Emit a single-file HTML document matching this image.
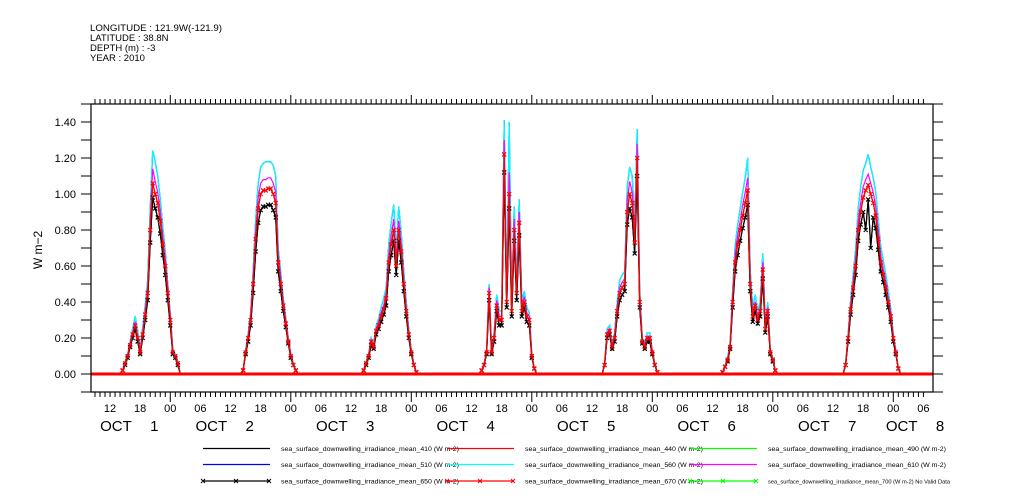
<!DOCTYPE html>
<html><head><meta charset="utf-8">
<style>
html,body{margin:0;padding:0;background:#fff;}
svg{display:block;font-family:"Liberation Sans",sans-serif;}
</style></head>
<body>
<svg id="chart" width="1009" height="504" viewBox="0 0 1009 504" xmlns="http://www.w3.org/2000/svg">
  <g font-size="9.5" fill="#000">
    <text x="90" y="31" textLength="132" lengthAdjust="spacingAndGlyphs">LONGITUDE : 121.9W(-121.9)</text>
    <text x="90" y="41">LATITUDE : 38.8N</text>
    <text x="90" y="51">DEPTH (m) : -3</text>
    <text x="90" y="61">YEAR : 2010</text>
  </g>
  <text x="0" y="0" font-size="12" text-anchor="middle" transform="translate(42,250) rotate(-90)">W m−2</text>
  <g id="axes"></g>
  <g id="series"></g>
  <rect x="91" y="104" width="842" height="288" fill="none" stroke="#000" stroke-width="1.2"/>
  <g id="legend"></g>
</svg>
<script>
const dayLabels = ["OCT 1","OCT 2","OCT 3","OCT 4","OCT 5","OCT 6","OCT 7","OCT 8"];
const yTickLabels = ["0.00","0.20","0.40","0.60","0.80","1.00","1.20","1.40"];
const yTickValues = [0,0.2,0.4,0.6,0.8,1.0,1.2,1.4];
const hourLabels = ["00","06","12","18"];

const s670 = [
0,0,.02,.06,.10,.16,.22,.27,.20,.12,.22,.33,.45,.80,1.06,1.00,.95,.85,.72,.60,.45,.30,.12,.10,.06,0,0,
0,0,.02,.12,.20,.30,.50,.75,.92,1.00,1.02,1.02,1.03,1.03,1.00,.95,.62,.50,.38,.28,.18,.10,.05,.02,0,0,0,
0,0,.02,.06,.10,.18,.15,.24,.27,.32,.36,.42,.62,.72,.80,.60,.80,.68,.50,.35,.22,.12,.05,.01,0,0,0,
0,.02,.05,.12,.45,.12,.20,.38,.30,.30,1.22,.40,1.00,.35,.80,.45,.84,.35,.40,.32,.30,.10,.03,0,0,0,0,
0,0,.05,.22,.24,.15,.20,.35,.45,.48,.50,.90,1.00,.95,.73,1.20,.40,.18,.15,.20,.20,.12,.05,.01,0,0,0,
0,.01,.04,.08,.15,.40,.62,.72,.80,.88,.95,1.02,.50,.32,.38,.30,.35,.58,.25,.35,.12,.08,.02,0,0,0,0,
0,0,.05,.20,.36,.48,.60,.80,.90,.98,1.02,1.05,1.00,.95,.88,.75,.62,.55,.48,.40,.32,.20,.12,.03,0,0,0];
const s560 = [
0,0,.02,.07,.11,.18,.25,.32,.24,.14,.26,.38,.52,.92,1.24,1.18,1.10,.97,.82,.68,.50,.33,.14,.11,.07,0,0,
0,0,.02,.13,.22,.34,.57,.86,1.06,1.15,1.17,1.18,1.18,1.18,1.16,1.10,.70,.56,.42,.31,.20,.11,.06,.02,0,0,0,
0,0,.02,.07,.11,.20,.17,.27,.31,.37,.42,.48,.72,.84,.94,.70,.93,.78,.57,.40,.25,.13,.06,.01,0,0,0,
0,.02,.06,.13,.50,.13,.23,.44,.35,.35,1.41,.46,1.40,.41,.93,.52,.97,.40,.46,.37,.34,.11,.03,0,0,0,0,
0,0,.06,.25,.27,.17,.23,.40,.52,.55,.57,1.04,1.15,1.10,.84,1.36,.46,.20,.17,.23,.23,.13,.06,.01,0,0,0,
0,.01,.05,.09,.17,.46,.71,.83,.92,1.01,1.09,1.20,.58,.37,.44,.35,.40,.67,.28,.40,.13,.09,.02,0,0,0,0,
0,0,.06,.22,.41,.55,.69,.92,1.04,1.13,1.17,1.22,1.15,1.09,1.01,.86,.71,.63,.55,.46,.36,.22,.13,.03,0,0,0];
const s410 = [
0,0,.02,.05,.09,.15,.20,.25,.18,.11,.20,.30,.41,.73,.98,.92,.87,.78,.66,.55,.41,.27,.11,.09,.05,0,0,
0,0,.02,.11,.18,.27,.45,.68,.84,.91,.93,.93,.94,.94,.91,.87,.57,.46,.35,.26,.17,.09,.05,.02,0,0,0,
0,0,.02,.05,.09,.16,.14,.22,.25,.29,.33,.38,.57,.66,.74,.55,.74,.62,.46,.32,.20,.11,.05,.01,0,0,0,
0,.02,.05,.11,.41,.11,.18,.35,.27,.27,1.12,.37,.92,.32,.74,.41,.77,.32,.37,.29,.27,.09,.03,0,0,0,0,
0,0,.05,.20,.22,.14,.18,.32,.41,.44,.46,.83,.92,.87,.67,1.10,.37,.17,.14,.18,.18,.11,.05,.01,0,0,0,
0,.01,.04,.07,.14,.37,.57,.66,.74,.81,.87,.94,.46,.29,.35,.28,.32,.53,.23,.32,.11,.07,.02,0,0,0,0,
0,0,.05,.18,.33,.44,.55,.74,.83,.90,.80,.97,.70,.87,.81,.69,.57,.51,.44,.37,.29,.18,.11,.03,0,0,0];
const s610 = [
0,0,.02,.06,.10,.17,.23,.29,.21,.13,.23,.35,.48,.85,1.14,1.07,1.01,.90,.76,.64,.48,.32,.13,.10,.06,0,0,
0,0,.02,.12,.21,.32,.53,.80,.98,1.06,1.08,1.08,1.09,1.09,1.06,1.01,.66,.53,.40,.30,.19,.11,.05,.02,0,0,0,
0,0,.02,.06,.10,.19,.16,.25,.29,.34,.38,.45,.66,.77,.86,.64,.85,.72,.53,.37,.23,.13,.05,.01,0,0,0,
0,.02,.05,.13,.48,.13,.21,.41,.32,.32,1.30,.43,1.12,.37,.86,.48,.90,.37,.43,.34,.32,.11,.03,0,0,0,0,
0,0,.05,.23,.25,.16,.21,.37,.48,.51,.53,.96,1.07,1.01,.78,1.28,.43,.19,.16,.21,.21,.13,.05,.01,0,0,0,
0,.01,.04,.08,.16,.43,.66,.77,.85,.94,1.01,1.09,.53,.34,.40,.32,.37,.62,.27,.37,.13,.08,.02,0,0,0,0,
0,0,.05,.21,.38,.51,.64,.85,.95,1.04,1.08,1.11,1.06,1.01,.93,.80,.66,.58,.51,.42,.34,.21,.13,.03,0,0,0];
const s510 = s560.slice();
const s490 = s670.slice();
const s440 = s670.slice();
const s650 = s410.slice();

const NS="http://www.w3.org/2000/svg";
const X0=49.8, PXH=120.5/24, Y0=374, PXV=180;
const T_START=8.2, T_END=174.7, PER_DAY=27, DAY_T0=13.5, STEP=0.5;
function xs(t){return X0+t*PXH;}
function ys(v){return Y0-v*PXV;}
function mk(tag,attrs,parent){const e=document.createElementNS(NS,tag);for(const k in attrs)e.setAttribute(k,attrs[k]);parent.appendChild(e);return e;}

const axes=document.getElementById('axes');
for(let v=-0.1;v<=1.501;v+=0.1){
  const y=ys(v);
  const tl=mk('line',{x1:81,x2:91,y1:y,y2:y,stroke:'#000'},axes);
  
  
  const tr=mk('line',{x1:933,x2:943,y1:y,y2:y,stroke:'#000'},axes);
  
  
}
yTickValues.forEach((v,i)=>{
  const t=mk('text',{x:76,y:ys(v)+4,'font-size':11,'text-anchor':'end'},axes);
  t.textContent=yTickLabels[i];
  
  
});
for(let h=Math.ceil(T_START);h<=T_END;h++){
  const x=xs(h);const major=(h%24===0);
  const b=mk('line',{x1:x,x2:x,y1:392,y2:major?402:397,stroke:'#000'},axes);
  
  
  const tp=mk('line',{x1:x,x2:x,y1:104,y2:major?95:99,stroke:'#000'},axes);
  
  
  if(h%6===0){
    const t=mk('text',{x:x,y:412,'font-size':11,'text-anchor':'middle'},axes);
    t.textContent=hourLabels[(h%24)/6];
    
    
  }
}
const dayCenters=[16,11,11,11,11,11,11,4.5];
dayLabels.forEach((lab,i)=>{
  const cx=xs(24*i+dayCenters[i]);
  const parts=lab.split(' ');
  const g=mk('g',{},axes);
  
  
  const a=mk('text',{x:cx-30,y:431,'font-size':15},g);a.textContent=parts[0];
  const b=mk('text',{x:cx+20,y:431,'font-size':15},g);b.textContent=parts[1];
});

const seriesG=document.getElementById('series');
const seriesDefs=[
 {d:s510,c:'#0000ff',name:'series-510'},
 {d:s560,c:'#00ffff',name:'series-560'},
 {d:s610,c:'#ff00ff',name:'series-610'},
 {d:s490,c:'#00ff00',name:'series-490'},
 {d:s410,c:'#000000',name:'series-410'},
 {d:s440,c:'#ff0000',name:'series-440'},
 {d:s650,c:'#000000',name:'series-650',m:true},
 {d:s670,c:'#ff0000',name:'series-670',m:true}
];
seriesDefs.forEach(s=>{
  const pts=[[T_START,0]];
  for(let i=0;i<s.d.length;i++){
    const day=Math.floor(i/PER_DAY),k=i%PER_DAY;
    pts.push([24*day+DAY_T0+k*STEP,s.d[i]]);
  }
  pts.push([T_END,0]);
  const g=mk('g',{},seriesG);
  
  
  const p=mk('polyline',{points:pts.map(p=>xs(p[0]).toFixed(1)+','+ys(p[1]).toFixed(1)).join(' '),fill:'none',stroke:s.c,'stroke-width':1.2},g);
  
  
  if(s.m){
    let d='';
    pts.forEach(q=>{if(q[1]>0){const x=xs(q[0]),y=ys(q[1]);d+=`M${x-2},${y-2}L${x+2},${y+2}M${x-2},${y+2}L${x+2},${y-2}`;}});
    const mp=mk('path',{d:d,stroke:s.c,'stroke-width':1.2,fill:'none'},g);
    
    
  }
});
const base=mk('line',{x1:91,x2:933,y1:Y0,y2:Y0,stroke:'#ff0000','stroke-width':3},seriesG);



const legend=document.getElementById('legend');
const legendItems=[
 ['410','#000000',false,0,0],['440','#ff0000',false,1,0],['490','#00ff00',false,2,0],
 ['510','#0000ff',false,0,1],['560','#00ffff',false,1,1],['610','#ff00ff',false,2,1],
 ['650','#000000',true,0,2],['670','#ff0000',true,1,2],['700','#00ff00',true,2,2]
];
const colX=[203,447,690], rowY=[448.5,464.5,481];
legendItems.forEach(it=>{
  const x=colX[it[3]], y=rowY[it[4]];
  const g=mk('g',{},legend);
  
  
  mk('line',{x1:x,x2:x+67,y1:y,y2:y,stroke:it[1],'stroke-width':1.2},g);
  if(it[2]){
    let d='';[x,x+33,x+66].forEach(mx=>{d+=`M${mx-2},${y-2}L${mx+2},${y+2}M${mx-2},${y+2}L${mx+2},${y-2}`;});
    mk('path',{d:d,stroke:it[1],'stroke-width':1},g);
  }
  const t=mk('text',{x:x+78,y:y+2.5,'font-size':6.5},g);
  if(it[0]==='700'){
    t.textContent='sea_surface_downwelling_irradiance_mean_700 (W m-2) No Valid Data';
    t.setAttribute('font-size','5.5');
    t.setAttribute('textLength','182');
  } else {
    t.textContent='sea_surface_downwelling_irradiance_mean_'+it[0]+' (W m-2)';
    t.setAttribute('textLength','178');
  }
  t.setAttribute('lengthAdjust','spacingAndGlyphs');
});
</script>
</body></html>
